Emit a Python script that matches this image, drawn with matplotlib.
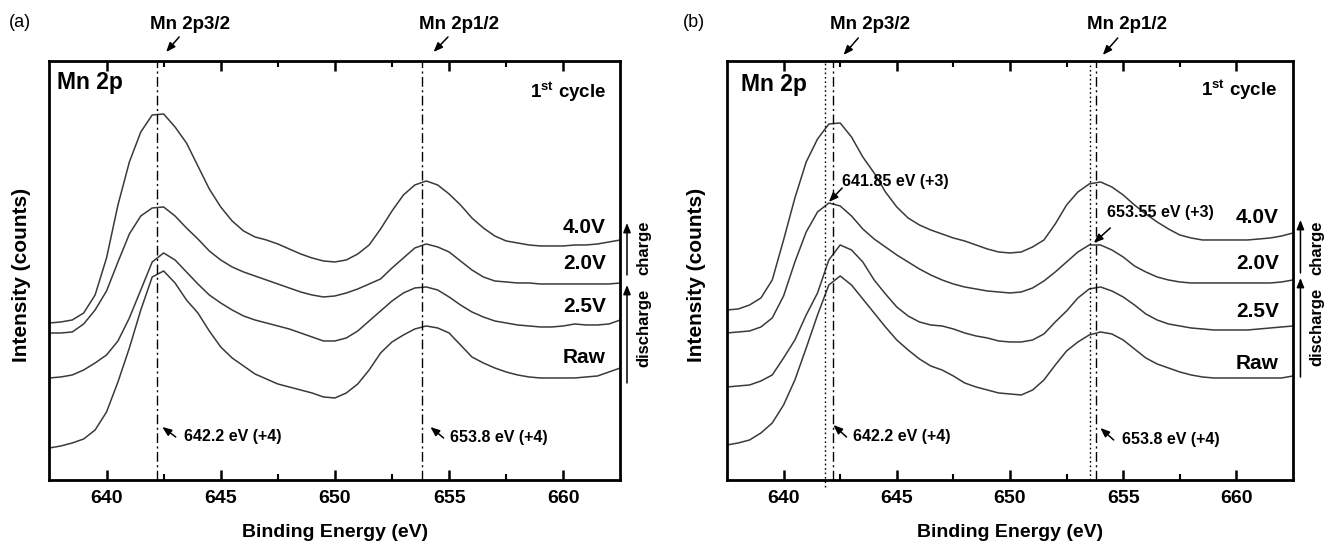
import matplotlib as mpl
mpl.use("Agg")
import matplotlib.pyplot as plt
import numpy as np
from matplotlib.ticker import FixedLocator

plt.rcParams["font.family"] = ["Liberation Sans", "DejaVu Sans"]
plt.rcParams["mathtext.fontset"] = "custom"
plt.rcParams["mathtext.rm"] = "Liberation Sans:bold"
plt.rcParams["mathtext.bf"] = "Liberation Sans:bold"

# binding energy grid (eV), readings every 0.5 eV
energy = np.arange(637.5, 662.75, 0.5)

# intensity (arb. counts, offset stacked)
# panel (a)
a_40v = [157, 158, 160, 167, 185, 222, 275, 318, 348, 365, 366, 353, 337, 314, 291, 273, 259, 249, 243, 240,
         236, 231, 226, 222, 219, 218, 220, 226, 235, 251, 269, 285, 295, 299, 295, 286, 275, 262, 252, 244,
         239, 237, 235, 234, 234, 234, 235, 235, 236, 238, 240]
a_20v = [147, 147, 148, 156, 170, 189, 218, 246, 264, 272, 273, 264, 252, 241, 229, 220, 213, 208, 204, 200,
         196, 192, 188, 185, 183, 184, 187, 191, 196, 201, 212, 222, 232, 236, 233, 228, 219, 210, 203, 199,
         198, 197, 197, 196, 196, 196, 196, 196, 196, 196, 197]
a_25v = [102, 103, 105, 110, 117, 125, 139, 162, 190, 218, 227, 220, 208, 196, 185, 177, 170, 164, 160, 157,
         154, 151, 147, 143, 139, 139, 142, 149, 159, 169, 179, 187, 192, 193, 190, 183, 175, 168, 163, 159,
         157, 155, 154, 153, 153, 154, 156, 155, 155, 156, 160]
a_raw = [32, 34, 37, 41, 50, 68, 98, 132, 170, 203, 209, 197, 180, 167, 149, 133, 122, 114, 106, 101,
         96, 93, 90, 87, 83, 82, 87, 96, 110, 127, 138, 145, 151, 154, 152, 147, 135, 123, 117, 112,
         108, 105, 103, 102, 102, 102, 102, 103, 104, 108, 112]

# panel (b)
b_40v = [170, 171, 175, 182, 200, 240, 282, 318, 341, 356, 357, 343, 323, 307, 288, 273, 262, 255, 250, 246,
         242, 239, 235, 231, 228, 227, 228, 233, 240, 256, 275, 288, 296, 298, 293, 285, 275, 266, 258, 251,
         245, 242, 240, 240, 240, 240, 240, 241, 242, 244, 247]
b_20v = [147, 148, 149, 153, 162, 184, 218, 248, 268, 277, 274, 264, 251, 241, 233, 225, 218, 211, 205, 200,
         196, 193, 191, 189, 188, 187, 188, 192, 199, 208, 218, 228, 235, 235, 230, 223, 214, 208, 203, 200,
         198, 197, 197, 197, 197, 197, 197, 197, 197, 198, 200]
b_25v = [93, 94, 95, 99, 105, 122, 140, 165, 187, 220, 235, 230, 218, 200, 186, 173, 164, 158, 155, 154,
         151, 147, 144, 142, 139, 138, 138, 140, 146, 158, 169, 182, 191, 193, 189, 183, 175, 166, 160, 156,
         154, 152, 151, 150, 150, 150, 150, 151, 152, 153, 154]
b_raw = [35, 37, 40, 47, 57, 75, 100, 132, 165, 195, 204, 195, 181, 167, 153, 140, 130, 121, 114, 110,
         104, 97, 93, 90, 87, 86, 85, 90, 100, 115, 129, 138, 145, 148, 146, 140, 131, 122, 116, 112,
         108, 105, 103, 102, 102, 102, 102, 102, 102, 102, 104]

curve_labels = ["4.0V", "2.0V", "2.5V", "Raw"]
peaks_mn4 = [642.2, 653.8]
peaks_mn3 = [641.85, 653.55]
major_ticks = [640, 645, 650, 655, 660]
minor_ticks = [642.5, 647.5, 652.5, 657.5]

line_col = "#3a3a3a"
dashdot = (0, (7, 2.5, 1.5, 2.5))
dotted = (0, (1.2, 2.0))


def arrow(ax, head, tail, lw=1.1, hw=0.22, hl=0.55):
    ax.annotate("", xy=head, xytext=tail, annotation_clip=False,
                arrowprops=dict(arrowstyle="-|>,head_length=%g,head_width=%g" % (hl, hw),
                                color="k", lw=lw, shrinkA=0, shrinkB=0))


def setup_axes(ax):
    ax.set_xlim(637.5, 662.5)
    ax.set_ylim(0, 419)
    ax.set_yticks([])
    ax.set_xticks(major_ticks)
    ax.xaxis.set_minor_locator(FixedLocator(minor_ticks))
    ax.tick_params(axis="x", which="major", direction="in", top=True, bottom=True,
                   length=7, width=1.8, labelsize=14, pad=7.5)
    ax.tick_params(axis="x", which="minor", direction="in", top=True, bottom=True,
                   length=4, width=1.5)
    for lab in ax.get_xticklabels():
        lab.set_fontweight("bold")
    for sp in ax.spines.values():
        sp.set_linewidth(2.0)
    ax.set_xlabel("Binding Energy (eV)", fontsize=14, fontweight="bold", labelpad=12)
    ax.set_ylabel("Intensity (counts)", fontsize=15, fontweight="bold", va="center")


fig = plt.figure(figsize=(13.29, 5.41), dpi=100)
ax_a = fig.add_axes([0.0372, 0.1128, 0.4296, 0.7745])
ax_b = fig.add_axes([0.5470, 0.1128, 0.4259, 0.7745])

# ---------------- panel (a)
ax = ax_a
setup_axes(ax)
ax.yaxis.set_label_coords(-0.049, 0.49)
for c in [a_40v, a_20v, a_25v, a_raw]:
    ax.plot(energy, c, color=line_col, lw=1.1)
for p in peaks_mn4:
    ax.axvline(p, color="k", lw=1.0, ls=dashdot)

ax.text(636.2, 457, "(a)", fontsize=13, ha="center", va="center")
ax.text(643.66, 455, "Mn 2p3/2", fontsize=13.5, fontweight="bold", ha="center", va="center")
ax.text(655.43, 455, "Mn 2p1/2", fontsize=13.5, fontweight="bold", ha="center", va="center")
arrow(ax, (642.61, 428), (643.18, 443))
arrow(ax, (654.32, 428), (654.95, 443))
ax.text(637.83, 397, "Mn 2p", fontsize=16.5, fontweight="bold", ha="left", va="center")
ax.text(661.87, 388, r"1$^{\mathbf{st}}$ cycle", fontsize=13.5, fontweight="bold", ha="right", va="center")
for lab, yy in zip(curve_labels, [252, 216, 173, 122]):
    ax.text(661.87, yy, lab, fontsize=15, fontweight="bold", ha="right", va="center")

ax.text(643.39, 43, "642.2 eV (+4)", fontsize=11.5, fontweight="bold", ha="left", va="center")
arrow(ax, (642.44, 53), (643.03, 43))
ax.text(655.05, 42, "653.8 eV (+4)", fontsize=11.5, fontweight="bold", ha="left", va="center")
arrow(ax, (654.18, 53), (654.76, 42))

arrow(ax, (662.79, 257), (662.79, 205), lw=1.1)
arrow(ax, (662.79, 195), (662.79, 97), lw=1.1)
ax.text(663.53, 232, "charge", rotation=90, fontsize=12, fontweight="bold", ha="center", va="center")
ax.text(663.53, 152, "discharge", rotation=90, fontsize=12, fontweight="bold", ha="center", va="center")

# ---------------- panel (b)
ax = ax_b
setup_axes(ax)
ax.yaxis.set_label_coords(-0.053, 0.49)
for c in [b_40v, b_20v, b_25v, b_raw]:
    ax.plot(energy, c, color=line_col, lw=1.1)
for p in peaks_mn4:
    ax.axvline(p, color="k", lw=1.0, ls=dashdot)
ax.plot([peaks_mn3[0], peaks_mn3[0]], [-7, 419], color="k", lw=1.0, ls=dotted, clip_on=False)
ax.axvline(peaks_mn3[1], color="k", lw=1.0, ls=dotted)

ax.text(636.05, 457, "(b)", fontsize=13, ha="center", va="center")
ax.text(643.82, 455, "Mn 2p3/2", fontsize=13.5, fontweight="bold", ha="center", va="center")
ax.text(655.17, 455, "Mn 2p1/2", fontsize=13.5, fontweight="bold", ha="center", va="center")
arrow(ax, (642.65, 425), (643.3, 442))
arrow(ax, (654.1, 425), (654.76, 442))
ax.text(638.12, 395, "Mn 2p", fontsize=16.5, fontweight="bold", ha="left", va="center")
ax.text(661.8, 390, r"1$^{\mathbf{st}}$ cycle", fontsize=13.5, fontweight="bold", ha="right", va="center")
for lab, yy in zip(curve_labels, [262, 216, 168, 116]):
    ax.text(661.88, yy, lab, fontsize=15, fontweight="bold", ha="right", va="center")

ax.text(642.59, 298, "641.85 eV (+3)", fontsize=11.5, fontweight="bold", ha="left", va="center")
arrow(ax, (642.0, 278), (642.59, 292))
ax.text(654.28, 267, "653.55 eV (+3)", fontsize=11.5, fontweight="bold", ha="left", va="center")
arrow(ax, (653.7, 237), (654.43, 252))
ax.text(643.08, 43, "642.2 eV (+4)", fontsize=11.5, fontweight="bold", ha="left", va="center")
arrow(ax, (642.2, 55), (642.78, 43))
ax.text(654.95, 40, "653.8 eV (+4)", fontsize=11.5, fontweight="bold", ha="left", va="center")
arrow(ax, (653.99, 52), (654.58, 40))

arrow(ax, (662.83, 260), (662.83, 207), lw=1.1)
arrow(ax, (662.83, 202), (662.83, 103), lw=1.1)
ax.text(663.56, 232, "charge", rotation=90, fontsize=12, fontweight="bold", ha="center", va="center")
ax.text(663.56, 153, "discharge", rotation=90, fontsize=12, fontweight="bold", ha="center", va="center")

fig.savefig("out.png", dpi=100)
